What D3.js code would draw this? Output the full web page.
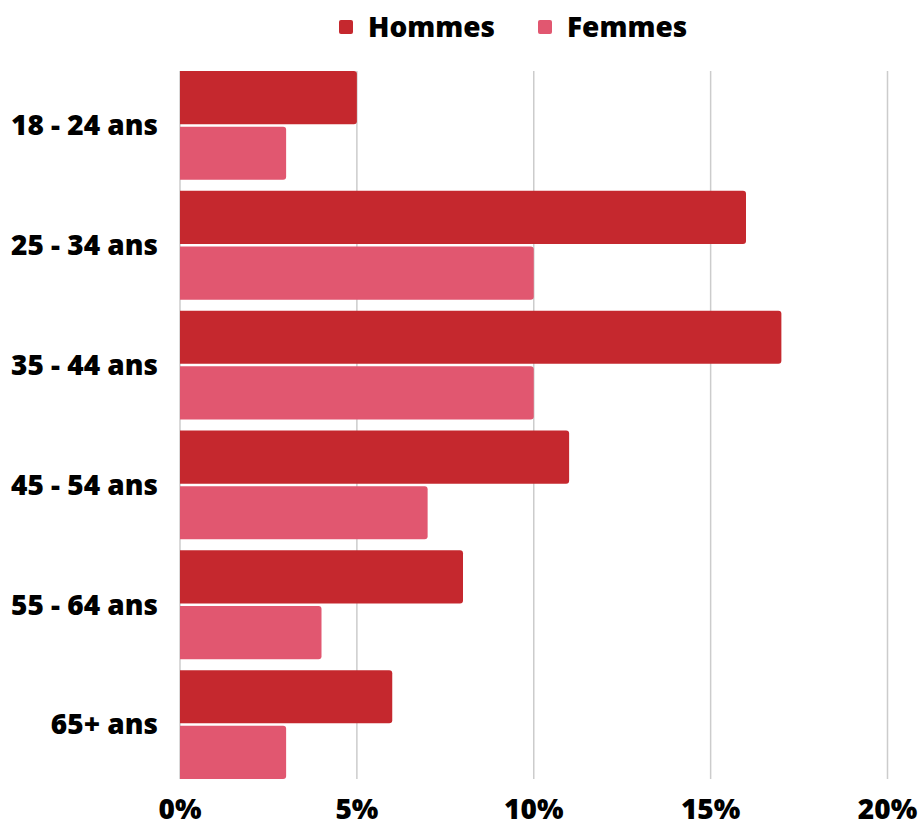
<!DOCTYPE html>
<html><head><meta charset="utf-8">
<script src="https://cdn.jsdelivr.net/npm/d3@7"></script>
<style>body{margin:0;background:#fff}svg{display:block;font-family:"Open Sans",sans-serif}</style>
</head><body><svg id="c" width="920" height="823"></svg>
<script>
const categories = ["18 - 24 ans","25 - 34 ans","35 - 44 ans","45 - 54 ans","55 - 64 ans","65+ ans"];
const hommes = [5,16,17,11,8,6];
const femmes = [3,10,10,7,4,3];
const seriesNames = ["Hommes","Femmes"];
const colors = ["#C5282E","#E15770"];
const xTicks = [0,5,10,15,20];

const svg = d3.select("#c");
const x = d3.scaleLinear().domain([0,20]).range([180,887.5]);
const y = d3.scaleBand().domain(categories).range([65.5,784.5]).paddingInner(0.092).paddingOuter(0.046);
const ys = d3.scaleBand().domain(seriesNames).range([0,y.bandwidth()]).paddingInner(0.045);

const plotTop = y(categories[0]), plotBot = y(categories[categories.length-1]) + y.bandwidth();

// grid
svg.append("g").selectAll("line").data(xTicks).join("line")
  .attr("x1",d=>x(d)).attr("x2",d=>x(d)).attr("y1",plotTop).attr("y2",plotBot)
  .attr("stroke","#cccccc").attr("stroke-width",1.5);

const data = categories.map((c,i)=>({c, vals:[hommes[i],femmes[i]]}));
function barPath(x0,y0,w,h,r){
  r=Math.min(r,w);
  return `M${x0},${y0}H${x0+w-r}Q${x0+w},${y0} ${x0+w},${y0+r}V${y0+h-r}Q${x0+w},${y0+h} ${x0+w-r},${y0+h}H${x0}Z`;
}
const g = svg.append("g");
data.forEach(d=>{
  d.vals.forEach((v,j)=>{
    g.append("path")
      .attr("d",barPath(x(0),y(d.c)+ys(seriesNames[j]),x(v)-x(0),ys.bandwidth(),3))
      .attr("fill",colors[j]);
  });
});

// y labels
svg.append("g").selectAll("text").data(categories).join("text")
  .attr("x",158).attr("y",d=>y(d)+y.bandwidth()/2).attr("dy","0.35em")
  .attr("text-anchor","end").attr("font-size",28).attr("font-weight",800).attr("fill","#000")
  .text(d=>d);

// x axis labels
svg.append("g").selectAll("text").data(xTicks).join("text")
  .attr("x",d=>x(d)).attr("y",819).attr("text-anchor","middle")
  .attr("font-size",28).attr("font-weight",800).attr("fill","#000")
  .text(d=>d+"%");

// legend
const leg = svg.append("g");
const legX = [339,538];
seriesNames.forEach((s,i)=>{
  leg.append("rect").attr("x",legX[i]).attr("y",20).attr("width",14).attr("height",14).attr("rx",2).attr("fill",colors[i]);
  leg.append("text").attr("x",legX[i]+29).attr("y",27).attr("dy","0.35em")
    .attr("font-size",28).attr("font-weight",800).attr("fill","#000").text(s);
});
</script></body></html>
